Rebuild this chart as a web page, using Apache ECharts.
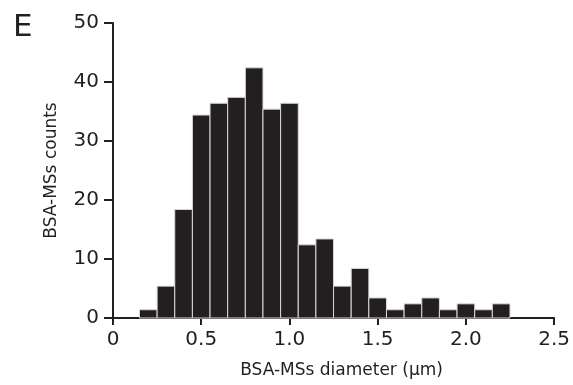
<!DOCTYPE html>
<html>
<head>
<meta charset="utf-8">
<script src="https://cdn.jsdelivr.net/npm/echarts@6/dist/echarts.min.js"></script>
<style>
  html, body { margin: 0; padding: 0; background: #fff; }
  #chart { width: 573px; height: 385px; }
</style>
</head>
<body>
<div id="chart"></div>
<script>
// histogram bins (centre of each bin, um) and counts
const binCenters = [0.2, 0.3, 0.4, 0.5, 0.6, 0.7, 0.8, 0.9, 1.0, 1.1, 1.2,
  1.3, 1.4, 1.5, 1.6, 1.7, 1.8, 1.9, 2.0, 2.1, 2.2];
const counts = [1.4, 5.4, 18.4, 34.4, 36.4, 37.4, 42.4, 35.4, 36.4, 12.4, 13.4,
  5.4, 8.4, 3.4, 1.4, 2.4, 3.4, 1.4, 2.4, 1.4, 2.4];
const binWidth = 0.1;

const ink = '#231f20';
const font = 'DejaVu Sans';

const chart = echarts.init(document.getElementById('chart'));

chart.setOption({
  animation: false,
  title: {
    text: 'E',
    left: 8,
    top: 7,
    textStyle: { fontFamily: font, fontSize: 31, fontWeight: 'normal', color: ink },
  },
  grid: { left: 113, right: 18, top: 23, bottom: 67 },
  xAxis: {
    type: 'value',
    min: 0,
    max: 2.5,
    interval: 0.5,
    name: 'BSA-MSs diameter (µm)',
    nameLocation: 'middle',
    nameGap: 44,
    nameTextStyle: { fontFamily: font, fontSize: 17, color: ink, padding: [0, 0, 0, 16] },
    axisLine: { onZero: false, lineStyle: { color: ink, width: 2 } },
    axisTick: { length: 7, lineStyle: { color: ink, width: 2 } },
    axisLabel: {
      fontFamily: font, fontSize: 20, color: ink, margin: 12,
      formatter: (v) => (v === 0 ? '0' : v.toFixed(1)),
    },
    splitLine: { show: false },
  },
  yAxis: {
    type: 'value',
    min: 0,
    max: 50,
    interval: 10,
    name: 'BSA-MSs counts',
    nameLocation: 'middle',
    nameGap: 53,
    nameTextStyle: { fontFamily: font, fontSize: 17, color: ink },
    axisLine: { show: true, lineStyle: { color: ink, width: 2 } },
    axisTick: { show: true, length: 9, lineStyle: { color: ink, width: 2 } },
    axisLabel: { fontFamily: font, fontSize: 20, color: ink, margin: 14 },
    splitLine: { show: false },
  },
  series: [
    {
      type: 'custom',
      data: binCenters.map((c, i) => [c, counts[i]]),
      renderItem: (params, api) => {
        const topLeft = api.coord([api.value(0) - binWidth / 2, api.value(1)]);
        const bottomRight = api.coord([api.value(0) + binWidth / 2, 0]);
        return {
          type: 'rect',
          shape: {
            x: topLeft[0],
            y: topLeft[1],
            width: bottomRight[0] - topLeft[0],
            height: bottomRight[1] - topLeft[1],
          },
          style: { fill: ink, stroke: '#d9d9d9', lineWidth: 1 },
        };
      },
    },
  ],
});
</script>
</body>
</html>
